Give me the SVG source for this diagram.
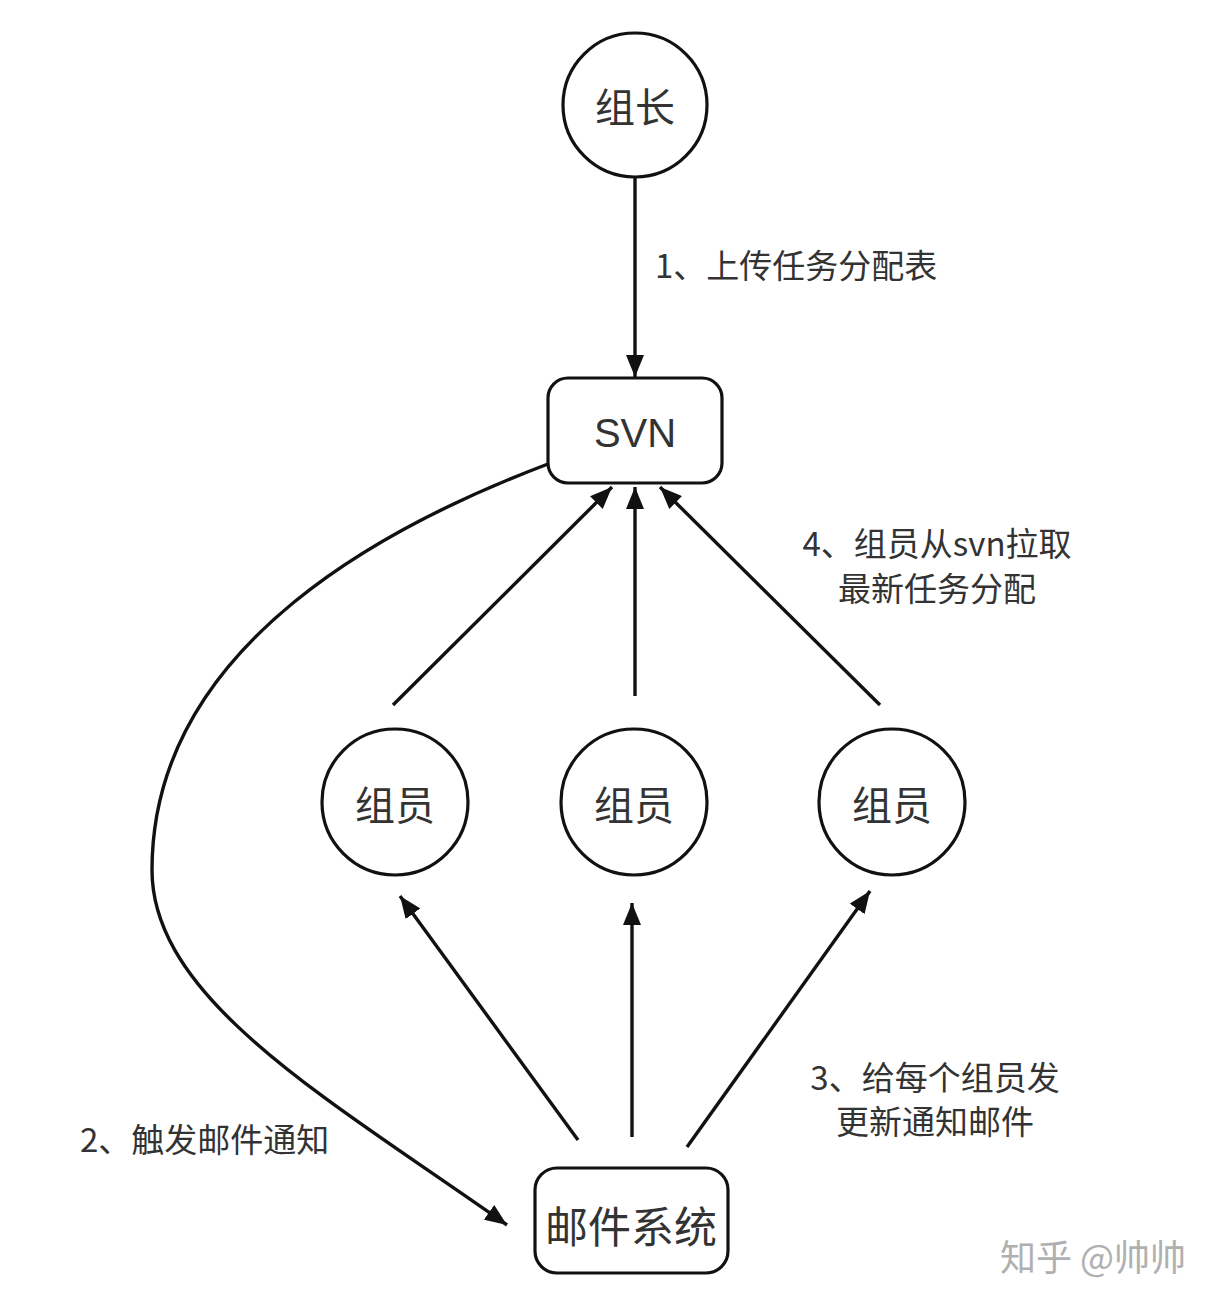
<svg xmlns="http://www.w3.org/2000/svg" width="1222" height="1302" viewBox="0 0 1222 1302">
<style>
.shape{fill:#fff;stroke:#111;stroke-width:3.2}
.edge{fill:none;stroke:#111;stroke-width:3.4;marker-end:url(#ah)}
.nt{font-family:"Noto Sans CJK SC","Noto Sans",sans-serif;font-size:40px;fill:#333;text-anchor:middle;dominant-baseline:central}
.lt{font-family:"Noto Sans CJK SC","Noto Sans",sans-serif;font-size:33px;fill:#333;dominant-baseline:central}
</style>
<defs>
<marker id="ah" viewBox="0 0 22 18" refX="22" refY="9" markerWidth="22" markerHeight="18" markerUnits="userSpaceOnUse" orient="auto">
<path d="M0,0 L22,9 L0,18 z" fill="#111"/>
</marker>
</defs>
<rect width="1222" height="1302" fill="#fff"/>
<g id="connectors">
<line class="edge" x1="635" y1="178" x2="635" y2="377"/>
<line class="edge" x1="393" y1="705" x2="612" y2="487"/>
<line class="edge" x1="635" y1="696" x2="635" y2="487"/>
<line class="edge" x1="880" y1="705" x2="660" y2="487"/>
<path class="edge" d="M548,464 C400,520 152,640 152,870 C152,1000 330,1100 507,1225"/>
<line class="edge" x1="578" y1="1140" x2="400" y2="896"/>
<line class="edge" x1="632" y1="1137" x2="632" y2="903"/>
<line class="edge" x1="687" y1="1147" x2="870" y2="891"/>
</g>
<g id="leader">
<circle class="shape" cx="635" cy="105" r="72"/>
<text class="nt" x="635" y="105">组长</text>
</g>
<g id="svn">
<rect class="shape" x="548" y="378" width="174" height="105" rx="20"/>
<text class="nt" x="635" y="433" style="font-family:'Liberation Sans',Arial,sans-serif">SVN</text>
</g>
<g id="member1">
<circle class="shape" cx="395" cy="802" r="73"/>
<text class="nt" x="395" y="803">组员</text>
</g>
<g id="member2">
<circle class="shape" cx="634" cy="802" r="73"/>
<text class="nt" x="634" y="803">组员</text>
</g>
<g id="member3">
<circle class="shape" cx="892" cy="802" r="73"/>
<text class="nt" x="892" y="803">组员</text>
</g>
<g id="mail">
<rect class="shape" x="535" y="1168" width="193" height="105" rx="22"/>
<text class="nt" x="631" y="1224" style="font-size:43px">邮件系统</text>
</g>
<g id="labels">
<text class="lt" x="655" y="264">1、上传任务分配表</text>
<text class="lt" x="937" y="542" text-anchor="middle">4、组员从svn拉取</text>
<text class="lt" x="937" y="587" text-anchor="middle">最新任务分配</text>
<text class="lt" x="935" y="1076" text-anchor="middle">3、给每个组员发</text>
<text class="lt" x="935" y="1120" text-anchor="middle">更新通知邮件</text>
<text class="lt" x="80" y="1138">2、触发邮件通知</text>
</g>
<text x="1000" y="1255" style="font-family:'Noto Sans CJK SC',sans-serif;font-size:36px;fill:#b0b0b0;dominant-baseline:central">知乎 @帅帅</text>
</svg>
